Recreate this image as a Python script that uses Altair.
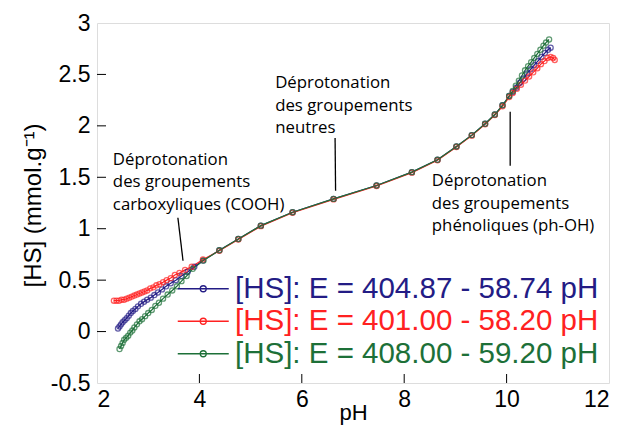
import altair as alt
import pandas as pd

# ---------------- data ----------------
labels = ["[HS]: E = 404.87 - 58.74 pH",
          "[HS]: E = 401.00 - 58.20 pH",
          "[HS]: E = 408.00 - 59.20 pH"]
colors = ["#231c85", "#ff2121", "#1d7038"]

mid_ph = [4.39, 4.76, 5.20, 5.82, 6.62, 7.46, 8.15, 8.65, 9.02, 9.32, 9.58, 9.77, 9.92, 10.05]
mid_val = [0.79, 0.90, 1.03, 1.16, 1.29, 1.42, 1.55, 1.67, 1.80, 1.91, 2.02, 2.11, 2.20, 2.29]
red_mid_val = [0.785, 0.895, 1.025, 1.155, 1.285, 1.415, 1.545, 1.665, 1.795, 1.905, 2.015, 2.105, 2.19, 2.28]

blue_low_ph = [2.41, 2.44, 2.47, 2.50, 2.54, 2.58, 2.62, 2.66, 2.70, 2.75, 2.80, 2.86, 2.92,
               2.98, 3.05, 3.12, 3.19, 3.27, 3.35, 3.44, 3.54, 3.65, 3.77, 3.90, 4.07]
blue_low_val = [0.03, 0.05, 0.07, 0.09, 0.11, 0.13, 0.155, 0.18, 0.20, 0.22, 0.245, 0.27, 0.29,
                0.31, 0.33, 0.355, 0.38, 0.41, 0.44, 0.47, 0.50, 0.54, 0.58, 0.63, 0.69]
blue_high_ph = [10.12, 10.19, 10.26, 10.33, 10.40, 10.47, 10.54, 10.61, 10.68, 10.75, 10.81, 10.86]
blue_high_val = [2.33, 2.37, 2.42, 2.46, 2.51, 2.55, 2.59, 2.63, 2.67, 2.71, 2.74, 2.76]

red_low_ph = [2.33, 2.38, 2.43, 2.48, 2.53, 2.58, 2.63, 2.68, 2.73, 2.78, 2.83, 2.88, 2.93,
              2.98, 3.04, 3.10, 3.16, 3.22, 3.29, 3.36, 3.44, 3.52, 3.61, 3.72, 3.85, 4.07]
red_low_val = [0.30, 0.30, 0.30, 0.31, 0.31, 0.32, 0.33, 0.34, 0.35, 0.36, 0.37, 0.38, 0.39,
               0.40, 0.42, 0.43, 0.45, 0.46, 0.48, 0.50, 0.52, 0.55, 0.57, 0.60, 0.63, 0.70]
red_high_ph = [10.12, 10.20, 10.28, 10.36, 10.44, 10.52, 10.60, 10.67, 10.74, 10.80, 10.86, 10.91, 10.94]
red_high_val = [2.32, 2.36, 2.40, 2.44, 2.48, 2.52, 2.56, 2.60, 2.63, 2.66, 2.67, 2.66, 2.64]

green_low_ph = [2.44, 2.47, 2.50, 2.53, 2.57, 2.61, 2.65, 2.69, 2.73, 2.78, 2.83, 2.88, 2.94,
                3.00, 3.07, 3.14, 3.21, 3.29, 3.38, 3.47, 3.56, 3.65, 3.75, 3.87, 4.08]
green_low_val = [-0.17, -0.14, -0.11, -0.08, -0.06, -0.04, -0.01, 0.01, 0.04, 0.07, 0.10, 0.12, 0.15,
                 0.18, 0.21, 0.25, 0.28, 0.32, 0.36, 0.40, 0.44, 0.49, 0.54, 0.61, 0.69]
green_high_ph = [10.12, 10.18, 10.24, 10.30, 10.36, 10.42, 10.48, 10.54, 10.60, 10.66, 10.72, 10.77, 10.83]
green_high_val = [2.34, 2.39, 2.44, 2.49, 2.54, 2.58, 2.62, 2.66, 2.70, 2.74, 2.78, 2.81, 2.84]

ann_text = ["Déprotonation\ndes groupements\ncarboxyliques (COOH)",
            "Déprotonation\ndes groupements\nneutres",
            "Déprotonation\ndes groupements\nphénoliques (ph-OH)"]
ann_ph = [2.31, 5.48, 8.54]
ann_val = [1.62, 2.364, 1.413]

lead_ph1 = [3.58, 6.65, 10.07]
lead_val1 = [1.107, 1.883, 2.136]
lead_ph2 = [3.68, 6.66, 10.07]
lead_val2 = [0.689, 1.369, 1.612]

x_ticks = [2, 4, 6, 8, 10, 12]
y_ticks = [-0.5, 0, 0.5, 1, 1.5, 2, 2.5, 3]
x_inner = [4, 6, 8, 10]
y_inner = [0, 0.5, 1, 1.5, 2, 2.5]

# ---------------- build table ----------------
rows = []
series = [
    (labels[0], blue_low_ph + mid_ph + blue_high_ph, blue_low_val + mid_val + blue_high_val),
    (labels[1], red_low_ph + mid_ph + red_high_ph, red_low_val + red_mid_val + red_high_val),
    (labels[2], green_low_ph + mid_ph + green_high_ph, green_low_val + mid_val + green_high_val),
]
for s, (name, xs, ys) in enumerate(series):
    for i, (xv, yv) in enumerate(zip(xs, ys)):
        rows.append({"series": name, "pH": xv, "Hs": yv, "ord": i, "sidx": s})
df = pd.DataFrame(rows)

ann_df = pd.DataFrame({"text": ann_text, "pH": ann_ph, "Hs": ann_val})
lead_df = pd.DataFrame({"x1": lead_ph1, "y1": lead_val1, "x2": lead_ph2, "y2": lead_val2})
xin_df = pd.DataFrame({"v": x_inner})
yin_df = pd.DataFrame({"v": y_inner})

xscale = alt.Scale(domain=[2, 12], nice=False, zero=False)
yscale = alt.Scale(domain=[-0.5, 3], nice=False, zero=False)
cscale = alt.Scale(domain=labels, range=colors)

label_color_expr = (f"indexof(datum.label, '404') >= 0 ? '{colors[0]}' : "
                    f"(indexof(datum.label, '401') >= 0 ? '{colors[1]}' : '{colors[2]}')")

xaxis = alt.Axis(values=x_ticks, title="pH", grid=False, ticks=False, domain=False,
                 labelFont="Liberation Sans", labelFontSize=23, labelColor="black",
                 labelPadding=5, titleFont="Liberation Sans", titleFontSize=22,
                 titleFontWeight="normal", titleColor="black", titlePadding=-9)
yaxis = alt.Axis(values=y_ticks, title="[HS] (mmol.g⁻¹)", grid=False, ticks=False, domain=False,
                 labelFont="Liberation Sans", labelFontSize=23, labelColor="black",
                 labelPadding=7,
                 labelExpr="replace(format(datum.value, '~g'), '\u2212', '-')",
                 titleFont="Liberation Sans", titleFontSize=24, titleFontWeight="normal",
                 titleColor="black", titleX=-64, titleY=182, titleAngle=270,
                 titleBaseline="middle", titleAlign="center")

legend = alt.Legend(title=None, orient="none", legendX=91.5, legendY=251,
                    symbolType="M-5.1,0H5.1M-0.6,0A0.6,0.6 0 1,0 0.6,0A0.6,0.6 0 1,0 -0.6,0",
                    symbolSize=100, symbolStrokeWidth=1.3,
                    labelFont="Liberation Sans", labelFontSize=29.5, labelLimit=500,
                    labelOffset=17, rowPadding=1.5,
                    labelColor=alt.ExprRef(expr=label_color_expr))

base = alt.Chart(df)
lines = base.mark_line(strokeWidth=1.2).encode(
    x=alt.X("pH:Q", scale=xscale, axis=xaxis),
    y=alt.Y("Hs:Q", scale=yscale, axis=yaxis),
    color=alt.Color("series:N", scale=cscale, legend=legend, sort=labels),
    order="ord:Q",
    detail="series:N",
)
points = base.mark_point(shape="circle", filled=False, size=26, strokeWidth=1.3).encode(
    x="pH:Q", y="Hs:Q",
    color=alt.Color("series:N", scale=cscale, legend=None),
    order="sidx:Q",
)

ann = alt.Chart(ann_df).mark_text(align="left", baseline="alphabetic", lineBreak="\n",
                                  lineHeight=22.5, font="Open Sans", fontSize=16.8,
                                  color="black").encode(
    x=alt.X("pH:Q", scale=xscale), y=alt.Y("Hs:Q", scale=yscale), text="text:N")

leads = alt.Chart(lead_df).mark_rule(color="black", strokeWidth=1.3).encode(
    x=alt.X("x1:Q", scale=xscale), y=alt.Y("y1:Q", scale=yscale), x2="x2:Q", y2="y2:Q")

yticks = alt.Chart(yin_df).mark_rule(color="black", strokeWidth=1).encode(
    y=alt.Y("v:Q", scale=yscale), x=alt.value(0), x2=alt.value(9))
xticks = alt.Chart(xin_df).mark_rule(color="black", strokeWidth=1).encode(
    x=alt.X("v:Q", scale=xscale), y=alt.value(360), y2=alt.value(351))

chart = alt.layer(yticks, xticks, lines, points, leads, ann).properties(
    width=512, height=360,
    padding={"left": 89, "top": 15, "right": 13, "bottom": 45},
    autosize=alt.AutoSizeParams(type="none"),
).configure_view(stroke="black", strokeWidth=2).configure(background="white")

chart.save("out.html", embed_options={"renderer": "svg", "actions": False})
